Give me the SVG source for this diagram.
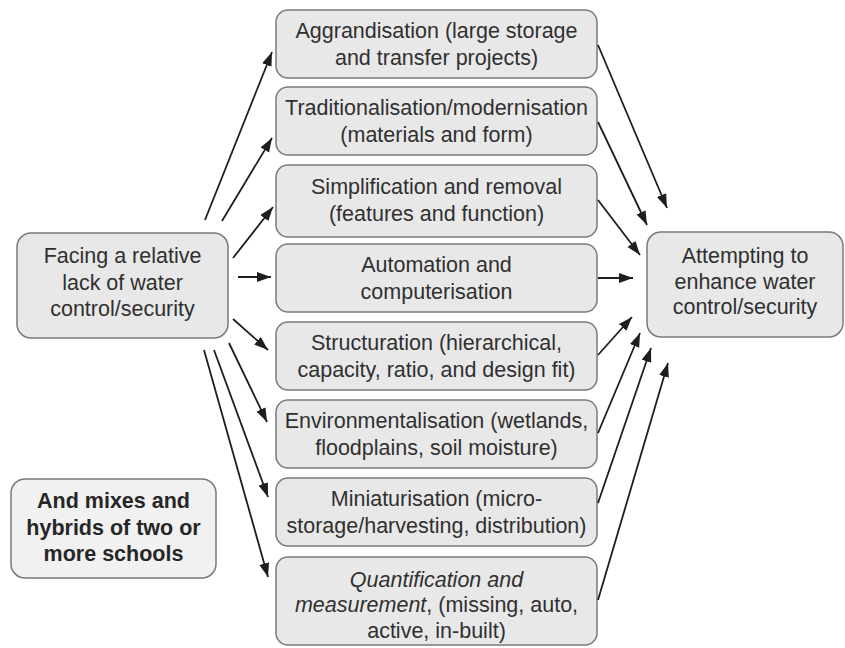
<svg xmlns="http://www.w3.org/2000/svg" width="845" height="648" viewBox="0 0 845 648">
<defs>
<marker id="ah" markerUnits="userSpaceOnUse" markerWidth="15" markerHeight="11" refX="14" refY="5" orient="auto">
<path d="M0,0 L14,5 L0,10 z" fill="#1e1e1e"/>
</marker>
<style>
.box{fill:#e8e8e8;stroke:#7a7a7a;stroke-width:1.5}
.mix{fill:#f1f1f1;stroke:#7a7a7a;stroke-width:1.5}
.t{font-family:"Liberation Sans",Arial,sans-serif;font-size:21.5px;fill:#303030;text-anchor:middle}
.b{font-weight:bold;fill:#262626}
.i{font-style:italic}
.c line{stroke:#1e1e1e;stroke-width:1.8;marker-end:url(#ah)}
</style>
</defs>
<rect width="845" height="648" fill="#fff"/>
<g id="src">
<rect class="box" x="17" y="233" width="211" height="105" rx="14"/>
<text class="t" x="122.5" y="263">Facing a relative</text>
<text class="t" x="122.5" y="290">lack of water</text>
<text class="t" x="122.5" y="316">control/security</text>
</g>
<g id="dst">
<rect class="box" x="647" y="232" width="196" height="105" rx="14"/>
<text class="t" x="745" y="263">Attempting to</text>
<text class="t" x="745" y="289">enhance water</text>
<text class="t" x="745" y="314">control/security</text>
</g>
<g id="mix">
<rect class="mix" x="11" y="479" width="205" height="99" rx="14"/>
<text class="t b" x="113.5" y="508">And mixes and</text>
<text class="t b" x="113.5" y="535">hybrids of two or</text>
<text class="t b" x="113.5" y="561">more schools</text>
</g>
<g id="n1">
<rect class="box" x="276" y="10" width="321" height="68" rx="12"/>
<text class="t" x="436.5" y="38">Aggrandisation (large storage</text>
<text class="t" x="436.5" y="65">and transfer projects)</text>
</g>
<g id="n2">
<rect class="box" x="276" y="87" width="321" height="68" rx="12"/>
<text class="t" x="436.5" y="115">Traditionalisation/modernisation</text>
<text class="t" x="436.5" y="142">(materials and form)</text>
</g>
<g id="n3">
<rect class="box" x="276" y="165" width="321" height="72" rx="12"/>
<text class="t" x="436.5" y="194">Simplification and removal</text>
<text class="t" x="436.5" y="221">(features and function)</text>
</g>
<g id="n4">
<rect class="box" x="276" y="244" width="321" height="68" rx="12"/>
<text class="t" x="436.5" y="272">Automation and</text>
<text class="t" x="436.5" y="299">computerisation</text>
</g>
<g id="n5">
<rect class="box" x="276" y="322" width="321" height="68" rx="12"/>
<text class="t" x="436.5" y="350">Structuration (hierarchical,</text>
<text class="t" x="436.5" y="377">capacity, ratio, and design fit)</text>
</g>
<g id="n6">
<rect class="box" x="276" y="400" width="321" height="68" rx="12"/>
<text class="t" x="436.5" y="428">Environmentalisation (wetlands,</text>
<text class="t" x="436.5" y="455">floodplains, soil moisture)</text>
</g>
<g id="n7">
<rect class="box" x="276" y="478" width="321" height="68" rx="12"/>
<text class="t" x="436.5" y="506">Miniaturisation (micro-</text>
<text class="t" x="436.5" y="533">storage/harvesting, distribution)</text>
</g>
<g id="n8">
<rect class="box" x="276" y="557" width="321" height="88" rx="12"/>
<text class="t i" x="436.5" y="587">Quantification and</text>
<text class="t" x="436.5" y="612"><tspan class="i">measurement</tspan>, (missing, auto,</text>
<text class="t" x="436.5" y="638">active, in-built)</text>
</g>
<g id="connectors" class="c">
<line x1="205" y1="220" x2="272" y2="52"/>
<line x1="222" y1="221" x2="272" y2="138"/>
<line x1="233" y1="258" x2="273" y2="207"/>
<line x1="238" y1="277" x2="271" y2="277"/>
<line x1="233" y1="319" x2="268" y2="350"/>
<line x1="229" y1="343" x2="267" y2="422"/>
<line x1="214" y1="350" x2="268" y2="497"/>
<line x1="204" y1="350" x2="268" y2="577"/>
<line x1="598" y1="45" x2="667" y2="208"/>
<line x1="598" y1="122" x2="647" y2="225"/>
<line x1="598" y1="200" x2="640" y2="255"/>
<line x1="598" y1="278" x2="633" y2="278"/>
<line x1="598" y1="355" x2="632" y2="317"/>
<line x1="598" y1="433" x2="640" y2="333"/>
<line x1="598" y1="503" x2="651" y2="348"/>
<line x1="598" y1="600" x2="668" y2="363"/>
</g>
</svg>
